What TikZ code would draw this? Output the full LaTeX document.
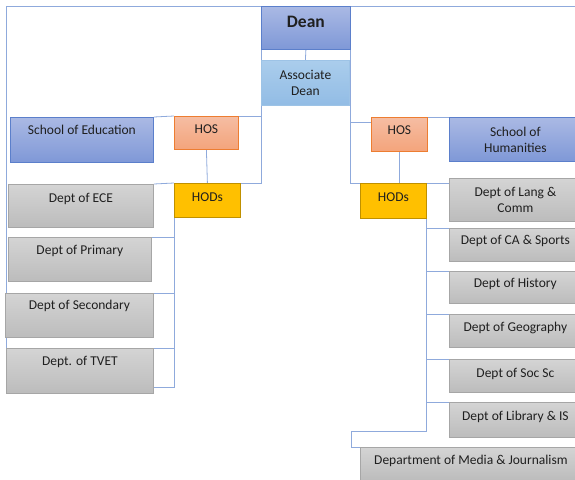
\documentclass[tikz,border=0pt]{standalone}
\usepackage{fontspec}
\setmainfont{Carlito}
\usetikzlibrary{backgrounds}
\definecolor{linkblue}{HTML}{8FAADC}
\definecolor{deantop}{HTML}{AAB9E4}
\definecolor{deanbot}{HTML}{7F98D7}
\definecolor{deanline}{HTML}{5B7FCB}
\definecolor{assoctop}{HTML}{AACDEC}
\definecolor{assocbot}{HTML}{92BCE5}
\definecolor{assocline}{HTML}{9DC3E6}
\definecolor{hostop}{HTML}{F5BDA3}
\definecolor{hosbot}{HTML}{F4A47B}
\definecolor{hosline}{HTML}{ED7D31}
\definecolor{hodfill}{HTML}{FFC000}
\definecolor{hodline}{HTML}{BF9000}
\definecolor{depttop}{HTML}{D4D4D4}
\definecolor{deptbot}{HTML}{BCBCBC}
\definecolor{deptline}{HTML}{A6A6A6}
\tikzset{
  orgbox/.style={draw, line width=0.8pt, anchor=north west, inner sep=0pt, align=center,
    font=\fontsize{13.5}{16}\selectfont, text=black!88},
  boxsize/.style n args={3}{minimum width=#1, text height=#2, text depth=#3},
  deanbox/.style={orgbox, draw=deanline, top color=deantop, bottom color=deanbot},
  assocbox/.style={orgbox, draw=assocline, top color=assoctop, bottom color=assocbot},
  hosbox/.style={orgbox, draw=hosline, top color=hostop, bottom color=hosbot},
  hodbox/.style={orgbox, draw=hodline, fill=hodfill},
  deptbox/.style={orgbox, draw=deptline, top color=depttop, bottom color=deptbot},
  link/.style={draw=linkblue, line width=0.8pt}
}
\begin{document}
\begin{tikzpicture}[x=1pt, y=-1pt]
  \clip (0,0) rectangle (575,479);
  % dean and associate dean
  \node[deanbox, boxsize={89pt}{21pt}{22pt}, font=\fontsize{17.5}{20}\selectfont\bfseries] (dean) at (261,6) {Dean};
  \node[assocbox, minimum width=88pt, minimum height=45pt] (assoc) at (261,60) {Associate\\Dean};
  % school of education
  \node[deanbox, boxsize={143pt}{17.5pt}{27.5pt}] (soe) at (10,117) {School of Education};
  \node[hosbox, boxsize={64pt}{17.5pt}{15.5pt}] (hosL) at (174,116) {HOS};
  \node[hodbox, boxsize={66pt}{18.5pt}{15.5pt}] (hodL) at (174,183) {HODs};
  \node[deptbox, boxsize={145pt}{18pt}{25pt}] (ece) at (8,184) {Dept of ECE};
  \node[deptbox, boxsize={143pt}{17pt}{27pt}] (primary) at (8,237) {Dept of Primary};
  \node[deptbox, boxsize={148pt}{16.5pt}{27.5pt}] (secondary) at (5,293) {Dept of Secondary};
  \node[deptbox, boxsize={147pt}{17pt}{28pt}] (tvet) at (6,348) {Dept. of TVET};
  % school of humanities
  \node[hosbox, boxsize={56pt}{17pt}{17pt}] (hosR) at (371,117) {HOS};
  \node[deanbox, minimum width=132pt, minimum height=44pt] (soh) at (449,117) {School of\\Humanities};
  \node[hodbox, boxsize={66pt}{18pt}{17pt}] (hodR) at (360,183) {HODs};
  \node[deptbox, minimum width=132pt, minimum height=43pt] (lang) at (449,178) {Dept of Lang \&\\Comm};
  \node[deptbox, boxsize={132pt}{16pt}{17pt}] (ca) at (449,228) {Dept of CA \& Sports};
  \node[deptbox, boxsize={132pt}{16.5pt}{15.5pt}] (history) at (449,271) {Dept of History};
  \node[deptbox, boxsize={132pt}{17.5pt}{15.5pt}] (geo) at (449,314) {Dept of Geography};
  \node[deptbox, boxsize={132pt}{18pt}{15pt}] (socsc) at (449,359) {Dept of Soc Sc};
  \node[deptbox, boxsize={132pt}{18pt}{17pt}] (library) at (449,402) {Dept of Library \& IS};
  \node[deptbox, boxsize={221pt}{17pt}{16pt}] (media) at (360,447) {Department of Media \& Journalism};
  \coordinate (rightedge) at (575,6);
  \coordinate (mediabend) at (351,431);
  \begin{scope}[on background layer]
    \draw[link] (dean.south) -- (assoc.north);
    % left side
    \draw[link] (dean.north west) -| (tvet.south west);
    \draw[link] (soe.north east) -- (hosL.north west);
    \draw[link] (hosL.north east) -- (hosL.north east -| assoc.west);
    \draw[link] (dean.north west) |- (hodL.north);
    \draw[link] (hosL.south) -- (hodL.north);
    \draw[link] (ece.north east) -- (hodL.north west);
    \draw[link] (hodL.south west) |- ([yshift=6pt]tvet.south east);
    \foreach \d in {primary, secondary, tvet}
      \draw[link] (\d.north east) -- (\d.north east -| hodL.west);
    % right side
    \draw[link] (dean.north east) -- (rightedge);
    \draw[link] (dean.north east) |- (hosR.south |- hodR.north);
    \draw[link] (hosR.south) -- (hosR.south |- hodR.north);
    \draw[link] ([yshift=-5pt]hosR.north west) -- ([yshift=-5pt]hosR.north west -| dean.east);
    \draw[link] (hosR.north east) -- (soh.north west);
    \draw[link] (hodR.north east) -- (hodR.north east -| lang.west);
    \draw[link] (hodR.north east) |- (mediabend) |- (media.north west);
    \foreach \d in {ca, history, geo, socsc, library}
      \draw[link] (\d.north west) -- (\d.north west -| hodR.east);
  \end{scope}
\end{tikzpicture}
\end{document}
